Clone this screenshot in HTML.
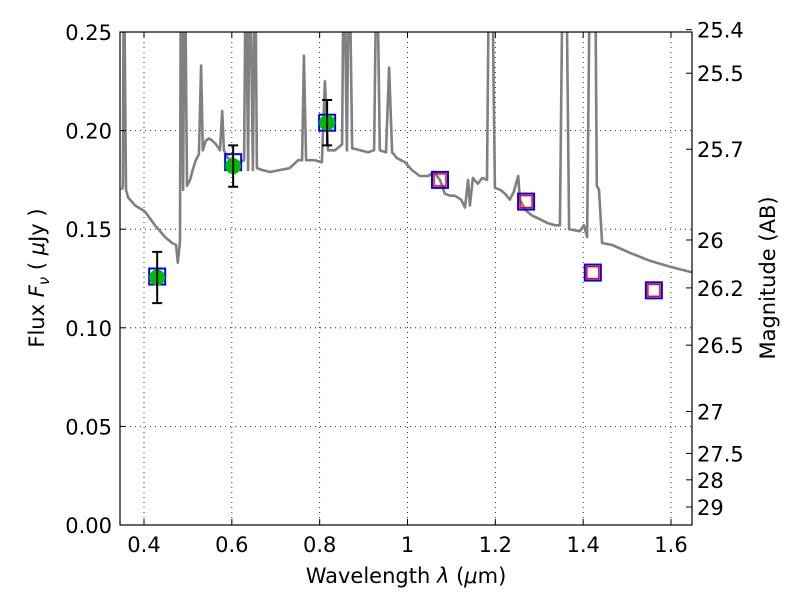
<!DOCTYPE html>
<html><head><meta charset="utf-8"><style>
body{margin:0;background:#fff}
svg text{font-family:"DejaVu Sans","Liberation Sans",sans-serif;fill:#000}
</style></head><body>
<svg id="chart" width="800" height="600" xmlns="http://www.w3.org/2000/svg">
<defs><clipPath id="clip"><rect x="120" y="32" width="572" height="493"/></clipPath></defs>
<rect x="0" y="0" width="800" height="600" fill="#fff"/>
<g id="grid"></g>
<g id="spec" clip-path="url(#clip)"></g>
<g id="marks"></g>
<rect x="120" y="32" width="572" height="493" fill="none" stroke="#000" stroke-width="1.2"/>
<g id="axes"></g>
<text x="406" y="583" text-anchor="middle" font-size="21">Wavelength  <tspan font-style="italic">λ</tspan> (<tspan font-style="italic">μ</tspan>m)</text>
<text transform="translate(44,278) rotate(-90)" text-anchor="middle" font-size="21">Flux  <tspan font-style="italic">F<tspan font-size="15" dy="5">ν</tspan></tspan><tspan dy="-5">  (  </tspan><tspan font-style="italic">μ</tspan>Jy )</text>
<text transform="translate(775,278) rotate(-90)" text-anchor="middle" font-size="21">Magnitude (AB)</text>
</svg>
<script>
const xTicks=[0.4,0.6,0.8,1.0,1.2,1.4,1.6];
const xTickLabels=["0.4","0.6","0.8","1","1.2","1.4","1.6"];
const yTicks=[0,0.05,0.10,0.15,0.20,0.25];
const yTickLabels=["0.00","0.05","0.10","0.15","0.20","0.25"];
const magTicks=[25.4,25.5,25.7,26,26.2,26.5,27,27.5,28,29];
const magTickLabels=["25.4","25.5","25.7","26","26.2","26.5","27","27.5","28","29"];
const specWave=[.350,.352,.354,.359,.364,.380,.402,.425,.448,.464,.473,.477,.482,.484,.489,.493,.498,.505,.511,.518,.525,.530,.534,.541,.548,.555,.564,.573,.578,.582,.591,.600,.619,.628,.632,.637,.641,.648,.653,.657,.669,.687,.710,.732,.751,.760,.764,.769,.789,.805,.812,.819,.835,.851,.855,.862,.867,.874,.892,.910,.924,.930,.937,.951,.958,.965,.976,.994,1.010,1.028,1.047,1.060,1.074,1.085,1.097,1.108,1.122,1.131,1.138,1.142,1.149,1.160,1.170,1.181,1.186,1.192,1.199,1.211,1.222,1.233,1.242,1.252,1.256,1.267,1.283,1.302,1.320,1.336,1.347,1.354,1.361,1.368,1.392,1.402,1.409,1.416,1.427,1.431,1.436,1.443,1.466,1.507,1.552,1.598,1.650];
const specFlux=[.170,.172,.30,.170,.166,.162,.159,.152,.146,.143,.142,.133,.144,.30,.170,.30,.172,.175,.180,.185,.188,.233,.190,.195,.196,.195,.193,.190,.210,.190,.186,.185,.184,.185,.30,.180,.30,.180,.30,.181,.180,.179,.180,.181,.185,.185,.238,.185,.185,.184,.225,.190,.190,.193,.30,.190,.30,.191,.190,.189,.190,.30,.190,.189,.232,.189,.186,.184,.180,.177,.177,.179,.175,.168,.167,.167,.165,.161,.175,.162,.176,.173,.176,.175,.30,.30,.171,.170,.168,.165,.169,.177,.165,.160,.157,.155,.153,.152,.152,.30,.30,.150,.149,.152,.146,.30,.30,.172,.170,.143,.142,.138,.134,.131,.128];
const obsWave=[0.430,0.603,0.817];
const obsFlux=[0.1255,0.182,0.204];
const obsErr=[0.013,0.0105,0.0115];
const modelWave=[0.430,0.603,0.817,1.074,1.270,1.422,1.561];
const modelFlux=[0.126,0.184,0.204,0.175,0.164,0.128,0.119];
const predWave=[1.074,1.270,1.422,1.561];
const predFlux=[0.175,0.164,0.128,0.119];

const NS="http://www.w3.org/2000/svg";
const X=w=>144+(w-0.4)*(671-144)/1.2;
const Y=f=>525-f*(493/0.25);
const magY=m=>Y(Math.pow(10,(23.9-m)/2.5));
function mk(tag,attrs,parent){const e=document.createElementNS(NS,tag);for(const k in attrs)e.setAttribute(k,attrs[k]);parent.appendChild(e);return e;}
const grid=document.getElementById('grid'),axes=document.getElementById('axes'),spec=document.getElementById('spec'),marks=document.getElementById('marks');
xTicks.forEach((t,i)=>{const x=X(t);
 let g=mk('line',{x1:x,x2:x,y1:32,y2:525,stroke:'#000','stroke-width':0.8,'stroke-dasharray':'1,4'},grid);
 
 
 mk('line',{x1:x,x2:x,y1:525,y2:519,stroke:'#000'},axes);
 mk('line',{x1:x,x2:x,y1:32,y2:38,stroke:'#000'},axes);
 let tx=mk('text',{x:x,y:552,'text-anchor':'middle','font-size':21},axes);tx.textContent=xTickLabels[i];
 
 
});
yTicks.forEach((t,i)=>{const y=Y(t);
 let g=mk('line',{x1:120,x2:692,y1:y,y2:y,stroke:'#000','stroke-width':0.8,'stroke-dasharray':'1,4'},grid);
 
 
 mk('line',{x1:120,x2:126,y1:y,y2:y,stroke:'#000'},axes);
 let tx=mk('text',{x:112,y:y+8,'text-anchor':'end','font-size':21},axes);tx.textContent=yTickLabels[i];
 
 
});
magTicks.forEach((m,i)=>{const y=magY(m);
 mk('line',{x1:686,x2:692,y1:y,y2:y,stroke:'#000'},axes);
 let tx=mk('text',{x:697,y:y+8,'font-size':21},axes);tx.textContent=magTickLabels[i];
 
 
});
const pts=specWave.map((w,i)=>X(w).toFixed(1)+','+Y(specFlux[i]).toFixed(1)).join(' ');
let pl=mk('polyline',{points:pts,fill:'none',stroke:'#808080','stroke-width':2.6,'stroke-linejoin':'round'},spec);


modelWave.forEach((w,i)=>{const x=X(w),y=Y(modelFlux[i]);
 let r=mk('rect',{x:x-8,y:y-8,width:16,height:16,fill:'none',stroke:'#0000ff','stroke-width':2},marks);
 
 
});
predWave.forEach((w,i)=>{const x=X(w),y=Y(predFlux[i]);
 let r=mk('rect',{x:x-6,y:y-6,width:12,height:12,fill:'none',stroke:'#ff0000','stroke-width':1.5},marks);
 
 
});
obsWave.forEach((w,i)=>{const x=X(w),y=Y(obsFlux[i]),y1=Y(obsFlux[i]+obsErr[i]),y2=Y(obsFlux[i]-obsErr[i]);
 let c=mk('circle',{cx:x,cy:y,r:8,fill:'#00bb00'},marks);
 
 
 let e=mk('path',{d:`M${x},${y1}V${y2}M${x-5},${y1}H${x+5}M${x-5},${y2}H${x+5}`,stroke:'#000','stroke-width':2,fill:'none'},marks);
 
 
});
</script>
</body></html>
